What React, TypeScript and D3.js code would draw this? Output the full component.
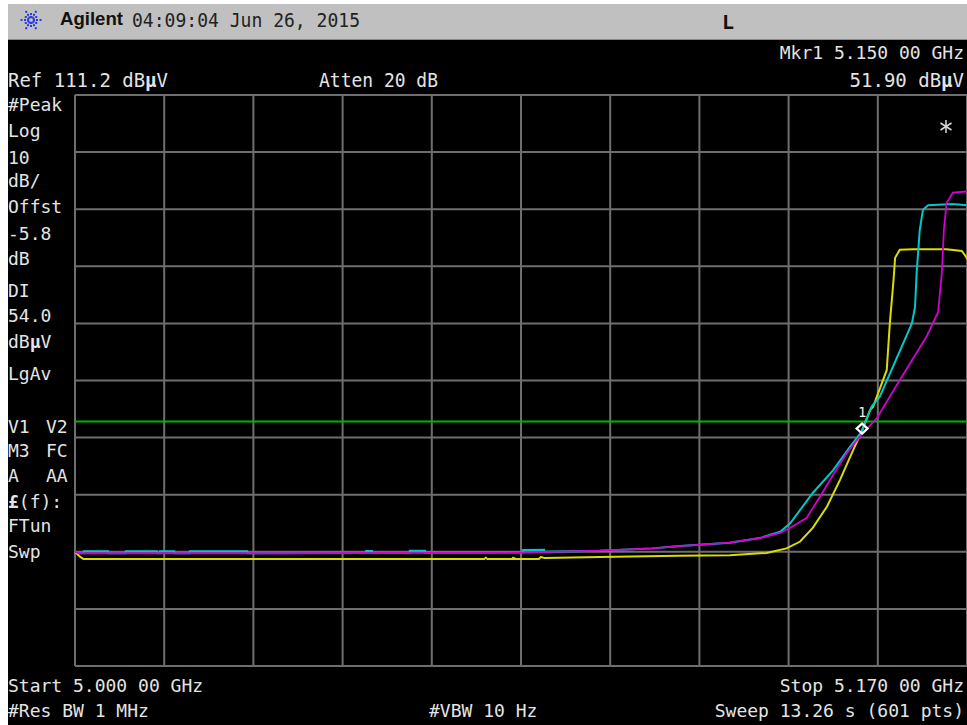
import React from "react";
import * as d3 from "d3";

// ---------- data ----------
const startMHz = 5000;
const stopMHz = 5170;
const refLevel = 111.2;
const dbPerDiv = 10;
const displayLine = 54.0;
const markerFreq = 5150.0;
const markerLevel = 51.9;

// trace 1 (yellow): [offset MHz from start, dBµV]
const yellowTrace: [number, number][] = [
  [0, 31.2], [1.0, 30.3], [1.6, 29.95], [78, 29.95], [78.3, 30.15], [78.6, 29.95],
  [83.3, 29.95], [83.5, 30.15], [84, 29.95], [88.4, 29.95], [88.8, 30.3], [89.5, 30.1],
  [100, 30.3], [115, 30.5], [124.8, 30.6], [131.8, 31.0], [135.6, 31.8], [138.2, 33.0],
  [140.6, 35.4], [143.3, 39.1], [145.8, 43.8], [148.3, 49.0], [149.9, 52.2], [151.5, 56.0],
  [152.1, 56.6], [154.7, 63.0], [155.3, 71.3], [156.0, 78.8], [156.3, 82.7], [157.2, 84.1],
  [159.7, 84.2], [166.1, 84.2], [169.0, 83.9], [169.8, 82.9], [170, 82.5],
];

// trace 2 (cyan)
const cyanTrace: [number, number][] = [
  [0, 31.2], [0.9, 30.95], [1.7, 30.95], [1.7, 31.3], [6.3, 31.3], [6.3, 30.95],
  [9.7, 30.95], [9.7, 31.3], [15.6, 31.3], [15.6, 30.95], [16.2, 30.95], [16.2, 31.3],
  [18.9, 31.3], [18.9, 30.95], [21.9, 30.95], [21.9, 31.3], [32.8, 31.3], [32.8, 30.95],
  [55.5, 31.0], [55.5, 31.35], [56.6, 31.35], [56.6, 31.0], [63.8, 31.0], [63.8, 31.4],
  [66.7, 31.4], [66.7, 31.05], [85.4, 31.1], [85.4, 31.5], [89.4, 31.55], [89.4, 31.2],
  [100, 31.4], [110, 31.8], [115.3, 32.2], [124.8, 32.8], [130.5, 33.6], [134.4, 34.7],
  [136.3, 36.2], [140.6, 41.5], [144.5, 45.5], [147.7, 49.6], [149.9, 52.2], [151.8, 56.6],
  [153.4, 58.4], [159.5, 71.2], [160.1, 74.1], [160.4, 80.0], [161.0, 87.6], [161.6, 91.1],
  [162.6, 91.9], [167.3, 92.1], [170, 91.9],
];

// trace 3 (magenta)
const magentaTrace: [number, number][] = [
  [0, 31.2], [0.9, 30.95], [40, 30.95], [85, 31.05], [100, 31.4], [110, 31.8],
  [115.3, 32.2], [124.8, 32.8], [130.5, 33.6], [134.4, 34.5], [136.3, 35.4], [139.4, 37.1],
  [142.0, 40.9], [144.5, 44.7], [147.1, 48.5], [149.6, 51.4], [152.8, 54.6], [154.9, 57.8],
  [157.2, 61.3], [162.3, 68.9], [164.5, 73.2], [165.2, 80.0], [165.6, 87.6], [166.1, 92.3],
  [167.3, 94.1], [169.8, 94.3], [170, 94.3],
];

const sideLabels = [
  "#Peak", "Log", "10", "dB/", "Offst", "-5.8", "dB", "DI", "54.0", "dBµV", "LgAv",
  "V1  V2", "M3  FC", "A  AA", "£(f):", "FTun", "Swp",
];

const titleBrand = "Agilent";
const titleDate = "04:09:04  Jun 26, 2015";
const titleFlag = "L";
const refText = "Ref 111.2 dBµV";
const attenText = "Atten 20 dB";
const mkrFreqText = "Mkr1  5.150 00 GHz";
const mkrLevelText = "51.90 dBµV";
const startText = "Start 5.000 00 GHz";
const stopText = "Stop 5.170 00 GHz";
const rbwText = "#Res BW 1 MHz";
const vbwText = "#VBW 10 Hz";
const sweepText = "Sweep 13.26 s (601 pts)";

// ---------- layout ----------
const W = 967;
const H = 725;
const sideY = [111, 137, 164, 187, 213, 240, 265, 297, 322, 348, 380, 433, 457, 482, 508, 532, 558];
const FONT = "'DejaVu Sans Mono', monospace";
const TXT = "#e4e4e4";

function Rich({ s }: { s: string }) {
  const parts = s.split(/([µ£])/);
  return (
    <>
      {parts.map((p, i) =>
        p === "µ" || p === "£" ? (
          <tspan key={i} fontWeight="bold">{p}</tspan>
        ) : (
          <tspan key={i}>{p}</tspan>
        )
      )}
    </>
  );
}

export default function App() {
  const x = d3.scaleLinear().domain([startMHz, stopMHz]).range([75, 967]);
  const y = d3.scaleLinear().domain([refLevel - 10 * dbPerDiv, refLevel]).range([666, 95]);

  const line = d3
    .line<[number, number]>()
    .x((d) => x(startMHz + d[0]))
    .y((d) => y(d[1]));

  const vGrid = d3.range(0, 11).map((i) => startMHz + ((stopMHz - startMHz) / 10) * i);
  const hGrid = d3.range(0, 11).map((i) => refLevel - dbPerDiv * i);

  const mx = x(markerFreq);
  const my = y(markerLevel);

  const rays = d3.range(0, 12).map((i) => (i * Math.PI) / 6);

  return (
    <svg
      width={W}
      height={H}
      style={{ position: "absolute", left: 0, top: 0, display: "block" }}
      fontFamily={FONT}
    >
      <rect x={0} y={0} width={W} height={H} fill="#ffffff" />
      <rect x={8} y={4} width={W - 8} height={H - 4} fill="#000000" />
      {/* title bar */}
      <rect x={8} y={4} width={W - 8} height={35} fill="#c0c0c0" />
      <line x1={8} x2={W} y1={39.5} y2={39.5} stroke="#8a8a8a" strokeWidth={1} />
      <g>
        {rays.map((a, i) =>
          [3, 6, 9.5].map((r, j) =>
            (i % 2 === 0 || j < 2) ? (
              <rect
                key={`${i}-${j}`}
                x={31 + Math.cos(a) * r - 1}
                y={20 + Math.sin(a) * r - 1}
                width={2}
                height={2}
                fill="#2b3be0"
              />
            ) : null
          )
        )}
      </g>
      <text x={60} y={25} fontFamily="'Liberation Sans', Arial, sans-serif" fontWeight="bold" fontSize={19} fill="#111" textLength={63} lengthAdjust="spacingAndGlyphs">
        {titleBrand}
      </text>
      <text x={132} y={27} fontSize={19} fill="#222" textLength={228} lengthAdjust="spacingAndGlyphs">
        {titleDate}
      </text>
      <text x={722} y={29} fontSize={20} fontWeight="bold" fill="#111">
        {titleFlag}
      </text>

      {/* header texts */}
      <text x={8} y={87} fontSize={19} fill={TXT} textLength={160} lengthAdjust="spacingAndGlyphs">
        <Rich s={refText} />
      </text>
      <text x={319} y={87} fontSize={19} fill={TXT} textLength={119} lengthAdjust="spacingAndGlyphs">
        {attenText}
      </text>
      <text x={964} y={59} fontSize={18} fill={TXT} textAnchor="end">
        {mkrFreqText}
      </text>
      <text x={964} y={87} fontSize={19} fill={TXT} textAnchor="end">
        <Rich s={mkrLevelText} />
      </text>

      {/* side labels */}
      {sideLabels.map((s, i) => {
        const parts = s.split(/\s{2,}/);
        return (
          <g key={i}>
            <text x={8} y={sideY[i]} fontSize={18} fill={TXT}>
              <Rich s={parts[0]} />
            </text>
            {parts[1] ? (
              <text x={46} y={sideY[i]} fontSize={18} fill={TXT}>
                {parts[1]}
              </text>
            ) : null}
          </g>
        );
      })}

      {/* grid */}
      <g stroke="#6e6e6e" strokeWidth={2}>
        {vGrid.map((f, i) => (
          <line key={`v${i}`} x1={x(f)} x2={x(f)} y1={y(hGrid[0])} y2={y(hGrid[10])} />
        ))}
        {hGrid.map((v, i) => (
          <line key={`h${i}`} x1={x(startMHz)} x2={x(stopMHz)} y1={y(v)} y2={y(v)} />
        ))}
      </g>

      {/* display line */}
      <line x1={x(startMHz)} x2={x(stopMHz)} y1={y(displayLine)} y2={y(displayLine)} stroke="#00b400" strokeWidth={2} />

      {/* traces */}
      <path d={line(yellowTrace) || ""} fill="none" stroke="#dcdc00" strokeWidth={2} />
      <path d={line(cyanTrace) || ""} fill="none" stroke="#00c8c8" strokeWidth={2} />
      <path d={line(magentaTrace) || ""} fill="none" stroke="#d200d2" strokeWidth={1.8} />

      {/* marker */}
      <path
        d={`M${mx},${my} L${mx + 5.5},${my - 5} L${mx},${my - 10} L${mx - 5.5},${my - 5} Z`}
        fill="none"
        stroke="#ffffff"
        strokeWidth={2.2}
      />
      <text x={mx - 4} y={my - 17} fontSize={14} fill="#eeeeee">1</text>

      {/* asterisk */}
      <g stroke="#d8d8d8" strokeWidth={1.5}>
        <line x1={946} x2={946} y1={120} y2={133} />
        <line x1={940.5} x2={951.5} y1={123} y2={130} />
        <line x1={940.5} x2={951.5} y1={130} y2={123} />
      </g>

      {/* footer */}
      <text x={8} y={692} fontSize={18} fill={TXT}>
        {startText}
      </text>
      <text x={964} y={692} fontSize={18} fill={TXT} textAnchor="end">
        {stopText}
      </text>
      <text x={8} y={717} fontSize={18} fill={TXT}>
        {rbwText}
      </text>
      <text x={429} y={717} fontSize={18} fill={TXT}>
        {vbwText}
      </text>
      <text x={964} y={717} fontSize={18} fill={TXT} textAnchor="end">
        {sweepText}
      </text>
    </svg>
  );
}
